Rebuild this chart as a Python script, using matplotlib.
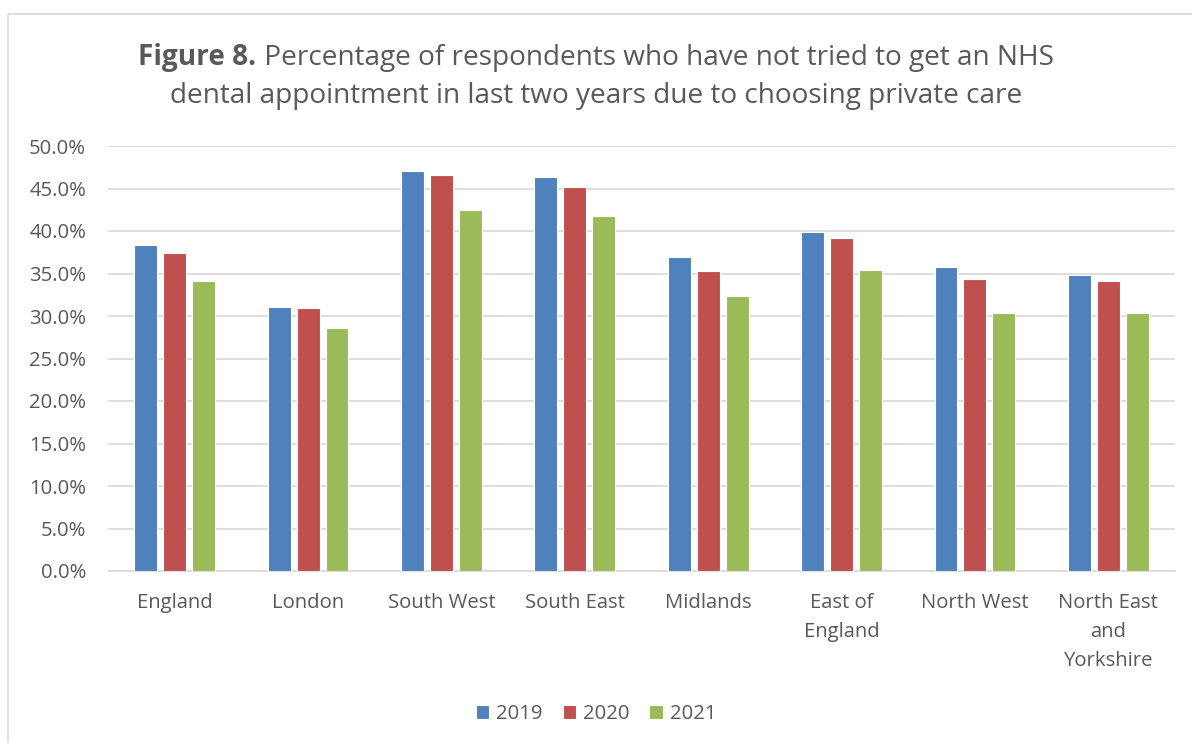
import numpy as np
import matplotlib.pyplot as plt
from matplotlib.patches import Rectangle
from matplotlib.ticker import FuncFormatter

plt.rcParams["font.family"] = ["Open Sans", "DejaVu Sans"]

regions = ["England", "London", "South West", "South East", "Midlands",
           "East of\nEngland", "North West", "North East\nand\nYorkshire"]
years = ["2019", "2020", "2021"]
pct_2019 = [38.3, 31.1, 47.1, 46.3, 37.0, 39.9, 35.8, 34.8]
pct_2020 = [37.4, 31.0, 46.6, 45.2, 35.3, 39.2, 34.4, 34.1]
pct_2021 = [34.1, 28.6, 42.5, 41.8, 32.3, 35.4, 30.4, 30.3]

colors = ["#4F81BD", "#C0504D", "#9BBB59"]
txt = "#595959"
fs = 14.6

fig = plt.figure(figsize=(11.92, 7.43), dpi=100)
# light grey frame round the chart (right and bottom edges run off the image)
fig.patches.append(Rectangle((8 / 1192, -0.02), 1.0, 1.02 - 14 / 743,
                             transform=fig.transFigure, fill=False,
                             edgecolor="#D9D9D9", linewidth=1.2))
ax = fig.add_axes([108 / 1192, 1 - 571 / 743, 1067 / 1192, 425 / 743])

x = np.arange(len(regions))
w = 0.172
step = 0.217
for i, (vals, c, lab) in enumerate(zip([pct_2019, pct_2020, pct_2021], colors, years)):
    ax.bar(x + (i - 1) * step, vals, width=w, color=c, edgecolor="white",
           linewidth=0.8, label=lab, zorder=3)

ax.set_xlim(-0.5, len(regions) - 0.5)
ax.set_ylim(0, 50)
ax.set_yticks(np.arange(0, 50.1, 5))
ax.yaxis.set_major_formatter(FuncFormatter(lambda v, p: f"{v:.1f}%"))
ax.grid(axis="y", color="#D9D9D9", linewidth=1.2, zorder=0)
ax.set_xticks(x)
ax.set_xticklabels(regions, linespacing=1.6)
ax.tick_params(axis="both", length=0, labelcolor=txt, labelsize=fs)
ax.tick_params(axis="x", pad=15.5)
ax.tick_params(axis="y", pad=15.8)
for s in ["top", "right", "left"]:
    ax.spines[s].set_visible(False)
ax.spines["bottom"].set_color("#D9D9D9")
ax.spines["bottom"].set_linewidth(1.2)

# title: bold "Figure 8." followed by regular text, centred as one line
tsize = 20.2
r = fig.canvas.get_renderer()
t_bold = fig.text(0, 1 - 65 / 743, "Figure 8.", fontsize=tsize, fontweight="bold",
                  color=txt, va="baseline", ha="left")
t_rest = fig.text(0, 1 - 65 / 743,
                  " Percentage of respondents who have not tried to get an NHS",
                  fontsize=tsize, color=txt, va="baseline", ha="left")
wb = t_bold.get_window_extent(r).width / fig.bbox.width
wr = t_rest.get_window_extent(r).width / fig.bbox.width
x0 = 0.5 - (wb + wr) / 2
t_bold.set_x(x0)
t_rest.set_x(x0 + wb)
fig.text(0.5, 1 - 103 / 743,
         "dental appointment in last two years due to choosing private care",
         ha="center", va="baseline", fontsize=tsize, color=txt)

fig.legend(loc="center", bbox_to_anchor=(0.5, 1 - 714 / 743), ncol=3,
           frameon=False, fontsize=fs, labelcolor=txt, handlelength=0.67,
           handleheight=0.67, handletextpad=0.34, columnspacing=0.97)

fig.savefig("out.png", dpi=100)
